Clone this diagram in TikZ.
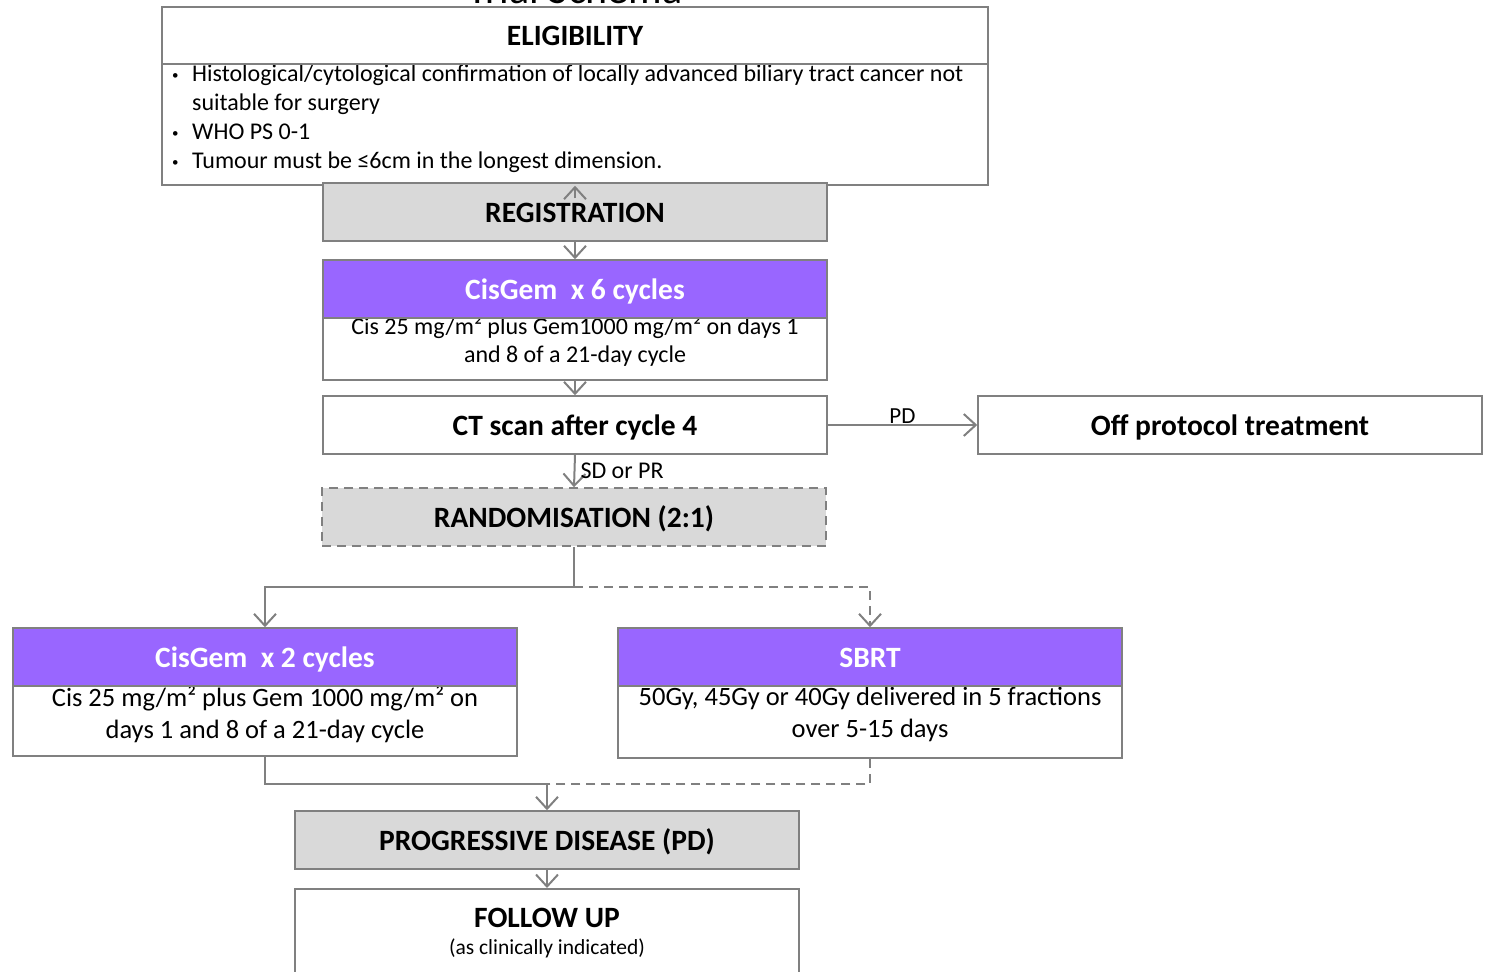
\documentclass[tikz,border=0pt]{standalone}
\usepackage{fontspec}
\setmainfont{Carlito}
\usetikzlibrary{arrows.meta}
\definecolor{boxgrey}{RGB}{217,217,217}
\definecolor{linegrey}{RGB}{128,128,128}
\definecolor{armpurple}{RGB}{153,102,255}
\newcommand{\bul}{\makebox[20pt][l]{\raisebox{2pt}{\fontsize{13}{13}\selectfont•}}}
\begin{document}
\begin{tikzpicture}[x=1pt,y=-1pt,
  box/.style={draw=linegrey,line width=1.5pt,minimum width=504pt,minimum height=58pt,inner sep=0pt},
  headfont/.style={font=\fontsize{29.5}{34}\selectfont\bfseries,text height=27pt,text depth=6pt},
  greybox/.style={box,fill=boxgrey,headfont},
  armhead/.style={box,fill=armpurple,text=white,headfont},
  bodytext/.style={align=center,inner sep=0pt,font=\fontsize{24}{28}\selectfont},
  conn/.style={draw=linegrey,line width=2pt,-{Straight Barb[length=12pt,width=22pt]}},
  plain/.style={draw=linegrey,line width=2pt},
  dashline/.style={dash pattern=on 9pt off 6pt}]
\useasboundingbox (0,0) rectangle (1487,971);
% title, cut at the top edge
\node[font=\fontsize{42}{48}\selectfont,anchor=base] (title) at (575,4) {Trial Schema};
% eligibility
\node[box,minimum width=826pt,minimum height=178pt] (elig) at (575,96) {};
\node[headfont,inner sep=0pt] (eligtitle) at (575,35) {ELIGIBILITY};
\node[anchor=north west,align=left,inner sep=0pt,font=\fontsize{24}{29}\selectfont] (eligtext) at (172,64.5)
  {\bul Histological/cytological confirmation of locally advanced biliary tract cancer not\\
   \hspace*{20pt}suitable for surgery\\
   \bul WHO PS 0-1\\
   \bul Tumour must be ≤6cm in the longest dimension.};
\draw[draw=linegrey,line width=1.5pt] (elig.west |- 0,64) -- (elig.east |- 0,64);
% main column
\node[greybox] (reg) at (575,212) {REGISTRATION};
\node[box,minimum height=120pt] (cg6) at (575,320) {};
\node[bodytext] (cg6text) at (575,341) {Cis 25 mg/m² plus Gem1000 mg/m² on days 1\\and 8 of a 21-day cycle};
\node[armhead] (cg6head) at (575,289) {CisGem\ \ x 6 cycles};
\node[box,headfont] (ct) at (575,425) {CT scan after cycle 4};
\node[box,headfont] (off) at (1230,425) {Off protocol treatment};
\node[greybox,dashline] (rand) at (574,517) {RANDOMISATION (2:1)};
% arms
\node[box,minimum height=128pt] (cg2) at (265,692) {};
\node[bodytext,font=\fontsize{26.5}{32}\selectfont] (cg2text) at (265,714) {Cis 25 mg/m² plus Gem 1000 mg/m² on\\days 1 and 8 of a 21-day cycle};
\node[armhead] (cg2head) at (265,657) {CisGem\ \ x 2 cycles};
\node[box,minimum height=130pt] (sbrt) at (870,693) {};
\node[bodytext,font=\fontsize{26.5}{32}\selectfont] (sbrttext) at (870,714) {50Gy, 45Gy or 40Gy delivered in 5 fractions\\over 5-15 days};
\node[armhead] (sbrthead) at (870,657) {SBRT};
% end
\node[greybox] (pd) at (547,840) {PROGRESSIVE DISEASE (PD)};
\node[box,anchor=north,minimum height=120pt] (fu) at (547,888) {};
\node[headfont,inner sep=0pt] (futitle) at (547,917) {FOLLOW UP};
\node[font=\fontsize{21.5}{25}\selectfont] (funote) at (547,948) {(as clinically indicated)};
% connectors
\coordinate (fork) at (rand.south |- 0,587);
\coordinate (join) at (547,784);
\draw[conn] ([yshift=-16pt]reg.north) -- (elig.south);
\draw[conn] (reg.south) -- (cg6head.north);
\draw[conn] (cg6.south) -- (ct.north);
\draw[conn] (ct.east) -- node[above,inner sep=1pt,font=\fontsize{23}{26}\selectfont] (pdlabel) {PD} (off.west);
\draw[conn] (ct.south) -- node[right,inner sep=5pt,font=\fontsize{24}{27}\selectfont] (sdlabel) {SD or PR} (rand.north);
\draw[plain] (rand.south) -- (fork);
\draw[conn] (fork) -| (cg2head.north);
\draw[conn,dashline] (fork) -| (sbrthead.north);
\draw[plain] (cg2.south) |- (join);
\draw[plain,dashline] (sbrt.south) |- (join);
\draw[conn] (join) -- (pd.north);
\draw[conn] (pd.south) -- (fu.north);
\end{tikzpicture}
\end{document}
